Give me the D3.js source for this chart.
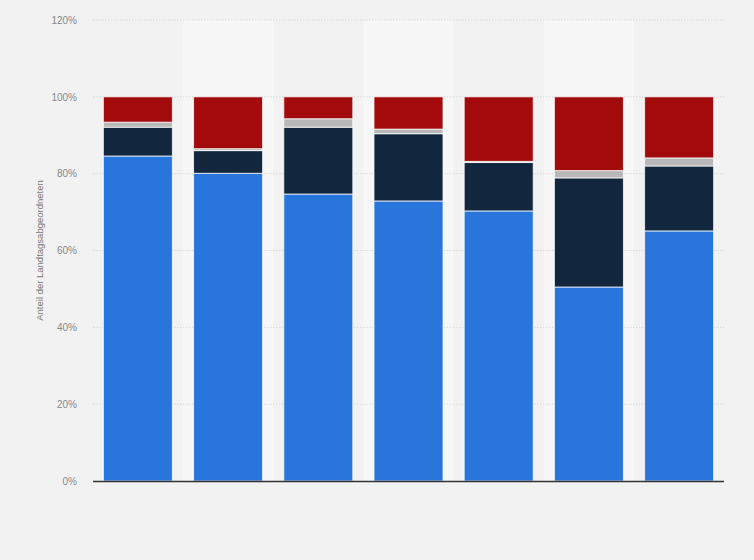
<!DOCTYPE html>
<html><head><meta charset="utf-8">
<script src="https://cdn.jsdelivr.net/npm/d3@7"></script>
<style>html,body{margin:0;padding:0;background:#f2f2f2;}svg{display:block;font-family:"Liberation Sans",Arial,sans-serif;}</style>
</head><body>
<svg id="c" width="754" height="560"></svg>
<script>
const categories = ["1","2","3","4","5","6","7"];
const seriesNames = ["blau","dunkel","grau","rot"];
const blau   = [84.6, 80.1, 74.7, 72.9, 70.3, 50.5, 65.1];
const dunkel = [ 7.5,  5.9, 17.4, 17.5, 12.6, 28.4, 16.9];
const grau   = [ 1.3,  0.5,  2.2,  1.2,  0.3,  1.9,  2.1];
const rot    = [ 6.6, 13.5,  5.7,  8.4, 16.8, 19.2, 15.9];
const yTicks = [0,20,40,60,80,100,120];
const colors = ["#2876dc","#12263e","#b8b8b8","#a20a0b"];

const svg = d3.select("#c");
const m = {l:93, r:30, t:20, b:79};
const W = 754, H = 560;
const x = d3.scaleBand().domain(categories).range([m.l, W-m.r]).paddingInner(0.235).paddingOuter(0.115);
const xb = d3.scaleBand().domain(categories).range([m.l, W-m.r]);
const y = d3.scaleLinear().domain([0,120]).range([H-m.b, m.t]);

// alternating bands
svg.append("g").selectAll("rect").data(categories.filter((d,i)=>i%2===1)).join("rect")
  .attr("x", d=>xb(d)).attr("width", xb.bandwidth())
  .attr("y", y(120)).attr("height", y(0)-y(120)).attr("fill","#f7f7f7");

// grid
svg.append("g").selectAll("line").data(yTicks.filter(d=>d>0)).join("line")
  .attr("x1", m.l).attr("x2", W-m.r).attr("y1", d=>y(d)).attr("y2", d=>y(d))
  .attr("stroke","#d8d8d8").attr("stroke-dasharray","1.5,1.5").attr("stroke-width",1);

// y axis labels
const ya = svg.append("g").attr("transform",`translate(${m.l},0)`)
  .call(d3.axisLeft(y).tickValues(yTicks).tickFormat(d=>d+"%").tickSize(0).tickPadding(16));
ya.select(".domain").remove();
ya.selectAll("text").attr("fill","#888").attr("font-size","10px").attr("font-family","'Liberation Sans',Arial,sans-serif");

// stacks
const rows = categories.map((c,i)=>({cat:c, blau:blau[i], dunkel:dunkel[i], grau:grau[i], rot:rot[i]}));
const stack = d3.stack().keys(seriesNames)(rows);
svg.append("g").selectAll("g").data(stack).join("g")
  .attr("fill",(d,i)=>colors[i])
  .selectAll("rect").data(d=>d).join("rect")
  .attr("x", d=>x(d.data.cat)).attr("width", x.bandwidth())
  .attr("y", d=>y(d[1])).attr("height", d=>Math.max(0, y(d[0])-y(d[1])))
  .attr("stroke","rgba(255,255,255,0.75)").attr("stroke-width",1);

// x axis line
svg.append("line").attr("x1", m.l).attr("x2", W-m.r).attr("y1", y(0)+0.5).attr("y2", y(0)+0.5)
  .attr("stroke","#333").attr("stroke-width",1.5);

// y title
svg.append("text").attr("transform",`translate(43,${(y(0)+y(120))/2}) rotate(-90)`)
  .attr("text-anchor","middle").attr("fill","#777").attr("font-size","9.5px")
  .text("Anteil der Landtagsabgeordneten");
</script>
</body></html>
